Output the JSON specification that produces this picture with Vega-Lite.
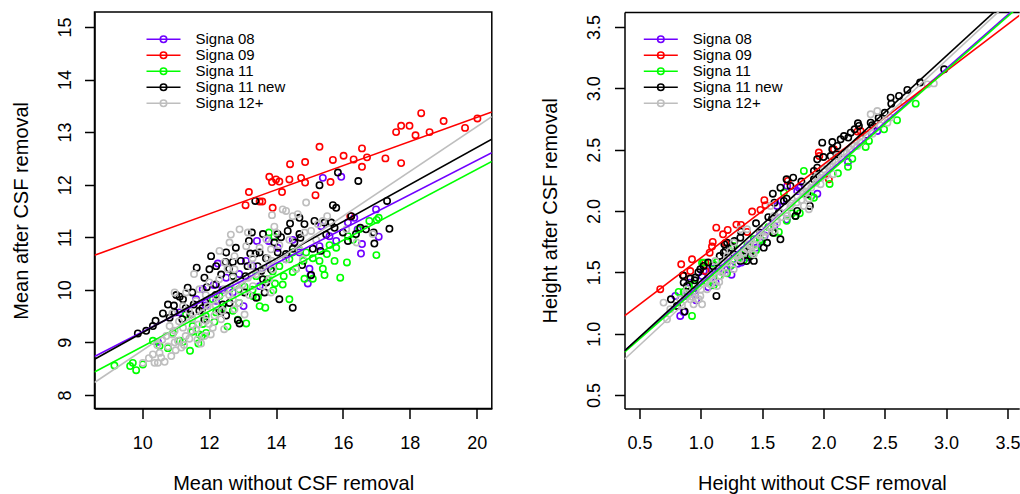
{
  "$schema": "https://vega.github.io/schema/vega-lite/v6.json",
  "padding": {"left": 9.5, "top": 11, "right": 0, "bottom": 0},
  "spacing": 132,
  "bounds": "flush",
  "config": {
    "view": {"stroke": null},
    "font": "Liberation Sans",
    "axis": {
      "grid": false, "domainColor": "black", "domainWidth": 1.5, "tickColor": "black", "tickWidth": 1.5, "tickSize": 10,
      "labelFont": "Liberation Sans", "labelFontSize": 18, "labelColor": "black", "labelFlush": false, "labelOverlap": false,
      "titleFont": "Liberation Sans", "titleFontSize": 20, "titleFontWeight": "normal", "titleColor": "black"
    },
    "axisBottom": {"labelBaseline": "alphabetic", "labelPadding": 29.5, "titleY": 80.7, "titleBaseline": "alphabetic"},
    "axisLeft": {"labelAngle": -90, "labelAlign": "center", "labelBaseline": "alphabetic", "labelPadding": 14.5, "titleAngle": 270, "titleX": -67.5, "titleY": 198.3, "titleAlign": "center", "titleBaseline": "alphabetic"},
    "legend": {"padding": 0, "rowPadding": 0, "clipHeight": 15, "labelFont": "Liberation Sans", "labelFontSize": 15, "labelColor": "black", "labelOffset": 14, "labelBaseline": "middle", "symbolStrokeWidth": 1.6, "symbolFillColor": "transparent", "symbolOpacity": 1}
  },
  "datasets": {
    "mean": [
      {"s":"Signa 08","x":15.40,"y":12.13},{"s":"Signa 08","x":15.95,"y":12.15},{"s":"Signa 08","x":16.34,"y":11.37},{"s":"Signa 08","x":16.57,"y":10.87},{"s":"Signa 08","x":16.54,"y":10.69},{"s":"Signa 08","x":16.99,"y":11.53},{"s":"Signa 08","x":17.07,"y":11.01},{"s":"Signa 08","x":14.95,"y":10.12},{"s":"Signa 08","x":15.00,"y":10.40},{"s":"Signa 08","x":15.35,"y":11.21},{"s":"Signa 08","x":15.30,"y":10.83},{"s":"Signa 08","x":15.60,"y":11.02},{"s":"Signa 08","x":15.80,"y":10.93},{"s":"Signa 08","x":13.43,"y":10.93},{"s":"Signa 08","x":13.78,"y":10.93},{"s":"Signa 08","x":14.05,"y":10.80},{"s":"Signa 08","x":12.26,"y":10.50},{"s":"Signa 08","x":12.14,"y":10.09},{"s":"Signa 08","x":13.03,"y":9.69},{"s":"Signa 08","x":10.47,"y":9.01},{"s":"Signa 08","x":12.51,"y":10.23},{"s":"Signa 08","x":15.03,"y":10.27},{"s":"Signa 08","x":14.70,"y":10.71},{"s":"Signa 08","x":14.30,"y":10.58},{"s":"Signa 08","x":11.81,"y":10.01},{"s":"Signa 08","x":11.61,"y":9.82},{"s":"Signa 08","x":12.71,"y":9.95},{"s":"Signa 08","x":11.12,"y":9.57},{"s":"Signa 08","x":13.31,"y":10.45},{"s":"Signa 08","x":16.15,"y":11.28},{"s":"Signa 08","x":16.44,"y":11.15},{"s":"Signa 08","x":13.51,"y":10.07},{"s":"Signa 08","x":12.21,"y":9.79},{"s":"Signa 08","x":12.4,"y":10.0},{"s":"Signa 08","x":13.8,"y":10.45},{"s":"Signa 08","x":12.9,"y":10.3},{"s":"Signa 08","x":14.5,"y":10.95},{"s":"Signa 08","x":11.9,"y":9.7},{"s":"Signa 08","x":13.1,"y":10.55},
      {"s":"Signa 09","x":18.34,"y":13.36},{"s":"Signa 09","x":17.59,"y":13.0},{"s":"Signa 09","x":17.74,"y":13.12},{"s":"Signa 09","x":17.99,"y":13.12},{"s":"Signa 09","x":18.17,"y":12.94},{"s":"Signa 09","x":18.59,"y":13.0},{"s":"Signa 09","x":19.01,"y":13.21},{"s":"Signa 09","x":19.65,"y":13.08},{"s":"Signa 09","x":20.02,"y":13.26},{"s":"Signa 09","x":17.74,"y":12.41},{"s":"Signa 09","x":17.27,"y":12.5},{"s":"Signa 09","x":16.72,"y":12.52},{"s":"Signa 09","x":16.57,"y":12.69},{"s":"Signa 09","x":16.57,"y":12.34},{"s":"Signa 09","x":16.32,"y":12.48},{"s":"Signa 09","x":16.02,"y":12.55},{"s":"Signa 09","x":15.70,"y":12.47},{"s":"Signa 09","x":15.30,"y":12.72},{"s":"Signa 09","x":15.63,"y":12.05},{"s":"Signa 09","x":15.18,"y":11.80},{"s":"Signa 09","x":14.87,"y":12.04},{"s":"Signa 09","x":14.75,"y":12.13},{"s":"Signa 09","x":14.40,"y":12.10},{"s":"Signa 09","x":14.87,"y":12.43},{"s":"Signa 09","x":14.42,"y":12.39},{"s":"Signa 09","x":14.18,"y":11.86},{"s":"Signa 09","x":13.90,"y":11.56},{"s":"Signa 09","x":13.80,"y":12.15},{"s":"Signa 09","x":13.88,"y":12.05},{"s":"Signa 09","x":14.00,"y":12.10},{"s":"Signa 09","x":14.10,"y":12.06},{"s":"Signa 09","x":13.09,"y":11.61},{"s":"Signa 09","x":13.19,"y":11.86},{"s":"Signa 09","x":13.51,"y":11.68},{"s":"Signa 09","x":13.59,"y":11.68},{"s":"Signa 09","x":16.22,"y":11.40},
      {"s":"Signa 11","x":9.17,"y":8.56},{"s":"Signa 11","x":9.64,"y":8.55},{"s":"Signa 11","x":9.72,"y":8.61},{"s":"Signa 11","x":9.82,"y":8.47},{"s":"Signa 11","x":10.02,"y":8.58},{"s":"Signa 11","x":10.32,"y":9.03},{"s":"Signa 11","x":10.77,"y":8.89},{"s":"Signa 11","x":11.12,"y":9.03},{"s":"Signa 11","x":11.22,"y":9.01},{"s":"Signa 11","x":11.43,"y":8.84},{"s":"Signa 11","x":11.68,"y":8.98},{"s":"Signa 11","x":11.78,"y":9.12},{"s":"Signa 11","x":11.91,"y":9.18},{"s":"Signa 11","x":11.71,"y":9.15},{"s":"Signa 11","x":12.16,"y":9.39},{"s":"Signa 11","x":12.21,"y":9.57},{"s":"Signa 11","x":12.71,"y":9.60},{"s":"Signa 11","x":13.11,"y":9.36},{"s":"Signa 11","x":12.86,"y":9.43},{"s":"Signa 11","x":12.89,"y":10.01},{"s":"Signa 11","x":13.31,"y":9.88},{"s":"Signa 11","x":13.51,"y":9.69},{"s":"Signa 11","x":13.68,"y":9.66},{"s":"Signa 11","x":13.46,"y":9.86},{"s":"Signa 11","x":13.92,"y":9.99},{"s":"Signa 11","x":13.97,"y":10.12},{"s":"Signa 11","x":14.20,"y":10.10},{"s":"Signa 11","x":14.23,"y":10.26},{"s":"Signa 11","x":14.10,"y":10.45},{"s":"Signa 11","x":14.40,"y":10.58},{"s":"Signa 11","x":14.70,"y":10.76},{"s":"Signa 11","x":14.85,"y":10.21},{"s":"Signa 11","x":15.10,"y":10.21},{"s":"Signa 11","x":15.45,"y":10.28},{"s":"Signa 11","x":15.75,"y":10.55},{"s":"Signa 11","x":15.92,"y":10.23},{"s":"Signa 11","x":16.12,"y":10.52},{"s":"Signa 11","x":15.80,"y":10.80},{"s":"Signa 11","x":16.15,"y":11.02},{"s":"Signa 11","x":16.49,"y":11.15},{"s":"Signa 11","x":16.79,"y":11.31},{"s":"Signa 11","x":17.01,"y":11.33},{"s":"Signa 11","x":17.07,"y":11.37},{"s":"Signa 11","x":17.00,"y":10.66},{"s":"Signa 11","x":13.79,"y":11.09},{"s":"Signa 11","x":13.95,"y":11.01},{"s":"Signa 11","x":12.71,"y":10.26},{"s":"Signa 11","x":11.81,"y":9.35},{"s":"Signa 11","x":11.31,"y":9.53},{"s":"Signa 11","x":12.11,"y":9.82},{"s":"Signa 11","x":12.61,"y":10.01},{"s":"Signa 11","x":12.31,"y":9.88},{"s":"Signa 11","x":13.41,"y":10.26},{"s":"Signa 11","x":14.50,"y":10.34},{"s":"Signa 11","x":15.30,"y":10.55},{"s":"Signa 11","x":15.52,"y":10.68},{"s":"Signa 11","x":15.40,"y":10.40},{"s":"Signa 11","x":14.82,"y":10.55},{"s":"Signa 11","x":14.50,"y":10.71},{"s":"Signa 11","x":13.06,"y":10.06},{"s":"Signa 11","x":11.51,"y":9.31},{"s":"Signa 11","x":10.92,"y":9.18},{"s":"Signa 11","x":10.52,"y":8.93},{"s":"Signa 11","x":14.40,"y":9.82},{"s":"Signa 11","x":14.90,"y":10.71},{"s":"Signa 11","x":11.9,"y":9.5},{"s":"Signa 11","x":12.4,"y":9.65},{"s":"Signa 11","x":12.9,"y":9.75},{"s":"Signa 11","x":13.3,"y":10.0},{"s":"Signa 11","x":13.75,"y":10.2},{"s":"Signa 11","x":14.6,"y":10.4},{"s":"Signa 11","x":15.1,"y":10.6},{"s":"Signa 11","x":11.5,"y":9.2},{"s":"Signa 11","x":12.55,"y":9.3},{"s":"Signa 11","x":13.9,"y":10.35},{"s":"Signa 11","x":15.6,"y":10.85},{"s":"Signa 11","x":16.3,"y":10.95},
      {"s":"Signa 11 new","x":9.87,"y":9.17},{"s":"Signa 11 new","x":10.12,"y":9.22},{"s":"Signa 11 new","x":10.32,"y":9.31},{"s":"Signa 11 new","x":10.40,"y":9.41},{"s":"Signa 11 new","x":10.62,"y":9.55},{"s":"Signa 11 new","x":10.77,"y":9.72},{"s":"Signa 11 new","x":10.97,"y":9.57},{"s":"Signa 11 new","x":11.02,"y":9.90},{"s":"Signa 11 new","x":11.12,"y":9.87},{"s":"Signa 11 new","x":11.22,"y":9.82},{"s":"Signa 11 new","x":11.36,"y":10.04},{"s":"Signa 11 new","x":11.44,"y":9.53},{"s":"Signa 11 new","x":11.54,"y":9.72},{"s":"Signa 11 new","x":11.63,"y":10.42},{"s":"Signa 11 new","x":11.86,"y":10.23},{"s":"Signa 11 new","x":11.89,"y":9.76},{"s":"Signa 11 new","x":11.93,"y":10.05},{"s":"Signa 11 new","x":12.01,"y":10.39},{"s":"Signa 11 new","x":12.06,"y":10.64},{"s":"Signa 11 new","x":12.21,"y":10.45},{"s":"Signa 11 new","x":12.36,"y":10.29},{"s":"Signa 11 new","x":12.31,"y":9.60},{"s":"Signa 11 new","x":12.41,"y":9.72},{"s":"Signa 11 new","x":12.49,"y":10.53},{"s":"Signa 11 new","x":12.51,"y":10.71},{"s":"Signa 11 new","x":12.51,"y":9.51},{"s":"Signa 11 new","x":12.61,"y":9.75},{"s":"Signa 11 new","x":12.71,"y":10.53},{"s":"Signa 11 new","x":12.71,"y":10.26},{"s":"Signa 11 new","x":12.86,"y":9.42},{"s":"Signa 11 new","x":13.09,"y":10.26},{"s":"Signa 11 new","x":13.19,"y":10.93},{"s":"Signa 11 new","x":13.23,"y":10.69},{"s":"Signa 11 new","x":13.28,"y":11.09},{"s":"Signa 11 new","x":13.39,"y":10.69},{"s":"Signa 11 new","x":13.38,"y":11.69},{"s":"Signa 11 new","x":13.51,"y":10.71},{"s":"Signa 11 new","x":13.56,"y":10.36},{"s":"Signa 11 new","x":13.61,"y":11.06},{"s":"Signa 11 new","x":13.66,"y":9.95},{"s":"Signa 11 new","x":13.71,"y":10.14},{"s":"Signa 11 new","x":13.41,"y":9.85},{"s":"Signa 11 new","x":13.85,"y":10.39},{"s":"Signa 11 new","x":14.05,"y":11.06},{"s":"Signa 11 new","x":14.05,"y":10.71},{"s":"Signa 11 new","x":14.30,"y":10.68},{"s":"Signa 11 new","x":14.35,"y":11.12},{"s":"Signa 11 new","x":14.42,"y":11.26},{"s":"Signa 11 new","x":14.50,"y":10.78},{"s":"Signa 11 new","x":14.70,"y":11.37},{"s":"Signa 11 new","x":14.70,"y":11.06},{"s":"Signa 11 new","x":14.73,"y":10.99},{"s":"Signa 11 new","x":14.78,"y":10.47},{"s":"Signa 11 new","x":15.05,"y":10.28},{"s":"Signa 11 new","x":15.10,"y":10.78},{"s":"Signa 11 new","x":15.15,"y":11.31},{"s":"Signa 11 new","x":15.30,"y":11.99},{"s":"Signa 11 new","x":15.33,"y":10.74},{"s":"Signa 11 new","x":15.65,"y":11.28},{"s":"Signa 11 new","x":15.75,"y":11.18},{"s":"Signa 11 new","x":15.85,"y":12.23},{"s":"Signa 11 new","x":15.80,"y":11.56},{"s":"Signa 11 new","x":16.00,"y":11.09},{"s":"Signa 11 new","x":16.15,"y":10.93},{"s":"Signa 11 new","x":16.46,"y":12.07},{"s":"Signa 11 new","x":16.52,"y":11.18},{"s":"Signa 11 new","x":16.92,"y":11.09},{"s":"Signa 11 new","x":16.94,"y":10.88},{"s":"Signa 11 new","x":17.32,"y":11.69},{"s":"Signa 11 new","x":17.39,"y":11.16},{"s":"Signa 11 new","x":14.50,"y":9.66},{"s":"Signa 11 new","x":14.10,"y":9.82},{"s":"Signa 11 new","x":13.61,"y":10.20},{"s":"Signa 11 new","x":12.91,"y":9.36},{"s":"Signa 11 new","x":13.06,"y":9.95},{"s":"Signa 11 new","x":11.86,"y":9.44},{"s":"Signa 11 new","x":11.71,"y":9.60},{"s":"Signa 11 new","x":11.20,"y":9.44},{"s":"Signa 11 new","x":10.82,"y":9.47},{"s":"Signa 11 new","x":15.70,"y":11.61},{"s":"Signa 11 new","x":15.45,"y":11.28},{"s":"Signa 11 new","x":16.25,"y":11.40},{"s":"Signa 11 new","x":16.39,"y":11.06},{"s":"Signa 11 new","x":16.69,"y":11.15},{"s":"Signa 11 new","x":11.5,"y":9.95},{"s":"Signa 11 new","x":11.8,"y":9.65},{"s":"Signa 11 new","x":12.2,"y":10.1},{"s":"Signa 11 new","x":12.6,"y":10.4},{"s":"Signa 11 new","x":12.95,"y":10.55},{"s":"Signa 11 new","x":13.15,"y":10.45},{"s":"Signa 11 new","x":13.7,"y":10.6},{"s":"Signa 11 new","x":13.95,"y":10.9},{"s":"Signa 11 new","x":14.15,"y":11.0},{"s":"Signa 11 new","x":14.55,"y":10.9},{"s":"Signa 11 new","x":12.2,"y":9.9},{"s":"Signa 11 new","x":11.3,"y":9.65},{"s":"Signa 11 new","x":10.95,"y":9.7},{"s":"Signa 11 new","x":12.8,"y":10.8},{"s":"Signa 11 new","x":13.45,"y":10.45},{"s":"Signa 11 new","x":14.85,"y":11.25},{"s":"Signa 11 new","x":15.5,"y":11.05},
      {"s":"Signa 12+","x":10.02,"y":8.61},{"s":"Signa 12+","x":10.32,"y":8.77},{"s":"Signa 12+","x":10.37,"y":8.61},{"s":"Signa 12+","x":10.47,"y":8.61},{"s":"Signa 12+","x":10.52,"y":8.80},{"s":"Signa 12+","x":10.57,"y":8.71},{"s":"Signa 12+","x":10.67,"y":8.63},{"s":"Signa 12+","x":10.77,"y":8.92},{"s":"Signa 12+","x":10.87,"y":8.74},{"s":"Signa 12+","x":10.97,"y":9.00},{"s":"Signa 12+","x":11.07,"y":9.03},{"s":"Signa 12+","x":11.17,"y":8.90},{"s":"Signa 12+","x":10.82,"y":9.31},{"s":"Signa 12+","x":10.97,"y":9.22},{"s":"Signa 12+","x":10.72,"y":9.12},{"s":"Signa 12+","x":11.22,"y":9.28},{"s":"Signa 12+","x":11.31,"y":9.95},{"s":"Signa 12+","x":11.22,"y":9.69},{"s":"Signa 12+","x":10.97,"y":9.95},{"s":"Signa 12+","x":11.41,"y":9.07},{"s":"Signa 12+","x":11.46,"y":9.22},{"s":"Signa 12+","x":11.61,"y":9.79},{"s":"Signa 12+","x":11.68,"y":9.34},{"s":"Signa 12+","x":11.71,"y":10.01},{"s":"Signa 12+","x":11.76,"y":8.98},{"s":"Signa 12+","x":11.86,"y":9.12},{"s":"Signa 12+","x":11.91,"y":9.41},{"s":"Signa 12+","x":11.96,"y":9.69},{"s":"Signa 12+","x":12.01,"y":10.14},{"s":"Signa 12+","x":12.16,"y":9.51},{"s":"Signa 12+","x":12.21,"y":9.88},{"s":"Signa 12+","x":12.31,"y":10.74},{"s":"Signa 12+","x":12.46,"y":10.01},{"s":"Signa 12+","x":12.46,"y":10.52},{"s":"Signa 12+","x":12.61,"y":10.90},{"s":"Signa 12+","x":12.71,"y":9.82},{"s":"Signa 12+","x":12.76,"y":9.63},{"s":"Signa 12+","x":12.76,"y":10.39},{"s":"Signa 12+","x":12.76,"y":10.64},{"s":"Signa 12+","x":12.91,"y":9.98},{"s":"Signa 12+","x":12.91,"y":11.15},{"s":"Signa 12+","x":13.06,"y":9.53},{"s":"Signa 12+","x":13.11,"y":10.83},{"s":"Signa 12+","x":13.16,"y":10.23},{"s":"Signa 12+","x":13.16,"y":11.09},{"s":"Signa 12+","x":13.31,"y":10.07},{"s":"Signa 12+","x":13.51,"y":10.80},{"s":"Signa 12+","x":13.61,"y":10.07},{"s":"Signa 12+","x":13.71,"y":10.96},{"s":"Signa 12+","x":13.85,"y":9.95},{"s":"Signa 12+","x":13.85,"y":10.77},{"s":"Signa 12+","x":13.88,"y":10.55},{"s":"Signa 12+","x":13.88,"y":11.42},{"s":"Signa 12+","x":13.90,"y":10.39},{"s":"Signa 12+","x":14.00,"y":11.09},{"s":"Signa 12+","x":14.20,"y":11.53},{"s":"Signa 12+","x":14.30,"y":11.50},{"s":"Signa 12+","x":14.30,"y":10.58},{"s":"Signa 12+","x":14.50,"y":11.40},{"s":"Signa 12+","x":14.65,"y":11.44},{"s":"Signa 12+","x":14.70,"y":10.77},{"s":"Signa 12+","x":14.80,"y":10.58},{"s":"Signa 12+","x":14.85,"y":11.09},{"s":"Signa 12+","x":14.90,"y":11.66},{"s":"Signa 12+","x":15.05,"y":11.12},{"s":"Signa 12+","x":15.25,"y":11.25},{"s":"Signa 12+","x":15.40,"y":11.31},{"s":"Signa 12+","x":15.53,"y":11.40},{"s":"Signa 12+","x":16.41,"y":10.90},{"s":"Signa 12+","x":16.89,"y":11.06},{"s":"Signa 12+","x":12.11,"y":9.28},{"s":"Signa 12+","x":12.36,"y":9.44},{"s":"Signa 12+","x":11.61,"y":9.25},{"s":"Signa 12+","x":12.71,"y":10.23},{"s":"Signa 12+","x":13.26,"y":10.45},{"s":"Signa 12+","x":16.10,"y":11.15},{"s":"Signa 12+","x":10.6,"y":9.05},{"s":"Signa 12+","x":10.9,"y":9.15},{"s":"Signa 12+","x":11.0,"y":8.85},{"s":"Signa 12+","x":11.3,"y":9.12},{"s":"Signa 12+","x":11.5,"y":9.45},{"s":"Signa 12+","x":11.8,"y":9.55},{"s":"Signa 12+","x":12.0,"y":9.35},{"s":"Signa 12+","x":12.2,"y":9.7},{"s":"Signa 12+","x":12.4,"y":9.6},{"s":"Signa 12+","x":12.6,"y":9.9},{"s":"Signa 12+","x":12.9,"y":9.75},{"s":"Signa 12+","x":13.0,"y":10.1},{"s":"Signa 12+","x":13.2,"y":9.9},{"s":"Signa 12+","x":13.4,"y":10.3},{"s":"Signa 12+","x":13.6,"y":10.4},{"s":"Signa 12+","x":12.3,"y":10.2},{"s":"Signa 12+","x":11.9,"y":9.9},{"s":"Signa 12+","x":11.4,"y":9.6},{"s":"Signa 12+","x":11.1,"y":9.4},{"s":"Signa 12+","x":10.9,"y":9.55},{"s":"Signa 12+","x":12.55,"y":10.4},{"s":"Signa 12+","x":13.75,"y":10.6},{"s":"Signa 12+","x":14.1,"y":10.85},{"s":"Signa 12+","x":14.4,"y":10.95},{"s":"Signa 12+","x":13.3,"y":10.6},{"s":"Signa 12+","x":12.8,"y":10.1},{"s":"Signa 12+","x":11.65,"y":9.05},{"s":"Signa 12+","x":11.25,"y":8.95},{"s":"Signa 12+","x":10.45,"y":8.95},{"s":"Signa 12+","x":10.2,"y":8.7},{"s":"Signa 12+","x":12.05,"y":9.15},{"s":"Signa 12+","x":12.45,"y":9.25},{"s":"Signa 12+","x":13.8,"y":10.2},{"s":"Signa 12+","x":14.6,"y":10.4},{"s":"Signa 12+","x":15.2,"y":10.95},{"s":"Signa 12+","x":13.95,"y":11.2},{"s":"Signa 12+","x":12.65,"y":11.05},{"s":"Signa 12+","x":11.55,"y":10.3}
    ],
    "meanLines": [
      {"s":"Signa 08","x":8.575,"y":8.73},{"s":"Signa 08","x":20.45,"y":12.61},
      {"s":"Signa 09","x":8.575,"y":10.657},{"s":"Signa 09","x":20.45,"y":13.383},
      {"s":"Signa 11","x":8.575,"y":8.437},{"s":"Signa 11","x":20.45,"y":12.44},
      {"s":"Signa 11 new","x":8.575,"y":8.68},{"s":"Signa 11 new","x":20.45,"y":12.864},
      {"s":"Signa 12+","x":8.575,"y":8.236},{"s":"Signa 12+","x":20.45,"y":13.296}
    ],
    "height": [
      {"s":"Signa 08","x":0.792,"y":1.307},{"s":"Signa 08","x":0.832,"y":1.144},{"s":"Signa 08","x":0.86,"y":1.177},{"s":"Signa 08","x":0.873,"y":1.307},{"s":"Signa 08","x":0.941,"y":1.348},{"s":"Signa 08","x":1.023,"y":1.511},{"s":"Signa 08","x":1.037,"y":1.43},{"s":"Signa 08","x":1.146,"y":1.53},{"s":"Signa 08","x":1.173,"y":1.503},{"s":"Signa 08","x":1.214,"y":1.525},{"s":"Signa 08","x":1.241,"y":1.552},{"s":"Signa 08","x":1.622,"y":2.041},{"s":"Signa 08","x":1.655,"y":2.082},{"s":"Signa 08","x":1.799,"y":2.19},{"s":"Signa 08","x":1.813,"y":2.198},{"s":"Signa 08","x":2.439,"y":2.652},{"s":"Signa 08","x":0.961,"y":1.272},{"s":"Signa 08","x":0.906,"y":1.416},{"s":"Signa 08","x":1.01,"y":1.47},{"s":"Signa 08","x":1.092,"y":1.53},{"s":"Signa 08","x":1.704,"y":2.204},{"s":"Signa 08","x":1.786,"y":2.163},{"s":"Signa 08","x":1.3,"y":1.57},{"s":"Signa 08","x":1.45,"y":1.70},{"s":"Signa 08","x":1.52,"y":1.80},{"s":"Signa 08","x":1.38,"y":1.62},{"s":"Signa 08","x":1.12,"y":1.42},{"s":"Signa 08","x":1.6,"y":1.88},{"s":"Signa 08","x":1.25,"y":1.48},{"s":"Signa 08","x":0.95,"y":1.32},{"s":"Signa 08","x":1.06,"y":1.38},{"s":"Signa 08","x":1.33,"y":1.58},{"s":"Signa 08","x":1.48,"y":1.75},{"s":"Signa 08","x":1.7,"y":1.93},{"s":"Signa 08","x":1.95,"y":2.14},{"s":"Signa 08","x":2.2,"y":2.4},
      {"s":"Signa 09","x":0.669,"y":1.362},{"s":"Signa 09","x":0.84,"y":1.565},{"s":"Signa 09","x":0.86,"y":1.47},{"s":"Signa 09","x":0.914,"y":1.51},{"s":"Signa 09","x":0.928,"y":1.606},{"s":"Signa 09","x":1.037,"y":1.579},{"s":"Signa 09","x":1.037,"y":1.51},{"s":"Signa 09","x":1.072,"y":1.66},{"s":"Signa 09","x":1.091,"y":1.71},{"s":"Signa 09","x":1.097,"y":1.748},{"s":"Signa 09","x":1.126,"y":1.864},{"s":"Signa 09","x":1.181,"y":1.81},{"s":"Signa 09","x":1.219,"y":1.845},{"s":"Signa 09","x":1.29,"y":1.889},{"s":"Signa 09","x":1.328,"y":1.886},{"s":"Signa 09","x":1.377,"y":1.829},{"s":"Signa 09","x":1.418,"y":1.995},{"s":"Signa 09","x":1.486,"y":2.009},{"s":"Signa 09","x":1.518,"y":2.088},{"s":"Signa 09","x":1.527,"y":2.047},{"s":"Signa 09","x":1.709,"y":2.245},{"s":"Signa 09","x":1.962,"y":2.476},{"s":"Signa 09","x":1.966,"y":2.448},{"s":"Signa 09","x":2.044,"y":2.258},{"s":"Signa 09","x":2.085,"y":2.503},{"s":"Signa 09","x":2.276,"y":2.647},{"s":"Signa 09","x":2.303,"y":2.652},{"s":"Signa 09","x":1.2,"y":1.74},
      {"s":"Signa 11","x":0.819,"y":1.34},{"s":"Signa 11","x":0.86,"y":1.34},{"s":"Signa 11","x":0.928,"y":1.144},{"s":"Signa 11","x":0.901,"y":1.389},{"s":"Signa 11","x":1.1,"y":1.571},{"s":"Signa 11","x":1.132,"y":1.585},{"s":"Signa 11","x":1.214,"y":1.492},{"s":"Signa 11","x":1.268,"y":1.715},{"s":"Signa 11","x":1.418,"y":1.639},{"s":"Signa 11","x":1.5,"y":1.755},{"s":"Signa 11","x":1.677,"y":2.149},{"s":"Signa 11","x":1.745,"y":1.981},{"s":"Signa 11","x":1.772,"y":1.959},{"s":"Signa 11","x":1.807,"y":1.981},{"s":"Signa 11","x":1.84,"y":2.326},{"s":"Signa 11","x":1.922,"y":2.108},{"s":"Signa 11","x":2.235,"y":2.426},{"s":"Signa 11","x":2.344,"y":2.522},{"s":"Signa 11","x":2.371,"y":2.571},{"s":"Signa 11","x":2.494,"y":2.666},{"s":"Signa 11","x":2.752,"y":2.875},{"s":"Signa 11","x":1.159,"y":1.51},{"s":"Signa 11","x":1.023,"y":1.579},{"s":"Signa 11","x":1.486,"y":1.768},{"s":"Signa 11","x":2.118,"y":2.307},{"s":"Signa 11","x":1.636,"y":1.829},{"s":"Signa 11","x":1.323,"y":1.647},{"s":"Signa 11","x":1.432,"y":1.77},{"s":"Signa 11","x":1.01,"y":1.578},{"s":"Signa 11","x":1.105,"y":1.394},{"s":"Signa 11","x":1.05,"y":1.42},{"s":"Signa 11","x":1.25,"y":1.56},{"s":"Signa 11","x":1.38,"y":1.72},{"s":"Signa 11","x":1.55,"y":1.87},{"s":"Signa 11","x":0.95,"y":1.40},{"s":"Signa 11","x":1.3,"y":1.62},{"s":"Signa 11","x":1.15,"y":1.47},{"s":"Signa 11","x":1.35,"y":1.6},{"s":"Signa 11","x":1.6,"y":1.82},{"s":"Signa 11","x":1.9,"y":2.12},{"s":"Signa 11","x":2.05,"y":2.22},{"s":"Signa 11","x":2.2,"y":2.36},{"s":"Signa 11","x":2.6,"y":2.74},{"s":"Signa 11","x":1.7,"y":1.92},{"s":"Signa 11","x":1.45,"y":1.68},
      {"s":"Signa 11 new","x":0.756,"y":1.28},{"s":"Signa 11 new","x":0.86,"y":1.416},{"s":"Signa 11 new","x":0.887,"y":1.389},{"s":"Signa 11 new","x":0.95,"y":1.435},{"s":"Signa 11 new","x":0.955,"y":1.457},{"s":"Signa 11 new","x":1.127,"y":1.307},{"s":"Signa 11 new","x":1.192,"y":1.728},{"s":"Signa 11 new","x":1.274,"y":1.755},{"s":"Signa 11 new","x":1.328,"y":1.831},{"s":"Signa 11 new","x":1.372,"y":1.592},{"s":"Signa 11 new","x":1.405,"y":1.633},{"s":"Signa 11 new","x":1.513,"y":1.701},{"s":"Signa 11 new","x":1.486,"y":1.823},{"s":"Signa 11 new","x":1.581,"y":1.94},{"s":"Signa 11 new","x":1.636,"y":1.986},{"s":"Signa 11 new","x":1.649,"y":2.19},{"s":"Signa 11 new","x":1.699,"y":2.258},{"s":"Signa 11 new","x":1.753,"y":2.272},{"s":"Signa 11 new","x":1.731,"y":2.204},{"s":"Signa 11 new","x":1.587,"y":2.141},{"s":"Signa 11 new","x":1.6,"y":2.068},{"s":"Signa 11 new","x":1.772,"y":1.959},{"s":"Signa 11 new","x":1.786,"y":2.0},{"s":"Signa 11 new","x":1.867,"y":2.136},{"s":"Signa 11 new","x":1.889,"y":2.041},{"s":"Signa 11 new","x":1.922,"y":2.258},{"s":"Signa 11 new","x":1.922,"y":2.326},{"s":"Signa 11 new","x":1.949,"y":2.353},{"s":"Signa 11 new","x":1.99,"y":2.557},{"s":"Signa 11 new","x":2.072,"y":2.562},{"s":"Signa 11 new","x":2.072,"y":2.503},{"s":"Signa 11 new","x":2.113,"y":2.53},{"s":"Signa 11 new","x":2.14,"y":2.584},{"s":"Signa 11 new","x":2.167,"y":2.611},{"s":"Signa 11 new","x":2.202,"y":2.598},{"s":"Signa 11 new","x":2.222,"y":2.638},{"s":"Signa 11 new","x":2.254,"y":2.666},{"s":"Signa 11 new","x":2.281,"y":2.715},{"s":"Signa 11 new","x":2.289,"y":2.693},{"s":"Signa 11 new","x":2.385,"y":2.72},{"s":"Signa 11 new","x":2.398,"y":2.699},{"s":"Signa 11 new","x":2.548,"y":2.924},{"s":"Signa 11 new","x":2.553,"y":2.875},{"s":"Signa 11 new","x":2.616,"y":2.938},{"s":"Signa 11 new","x":2.684,"y":2.987},{"s":"Signa 11 new","x":2.788,"y":3.047},{"s":"Signa 11 new","x":2.984,"y":3.155},{"s":"Signa 11 new","x":1.949,"y":2.421},{"s":"Signa 11 new","x":2.058,"y":2.448},{"s":"Signa 11 new","x":1.677,"y":2.082},{"s":"Signa 11 new","x":1.268,"y":1.647},{"s":"Signa 11 new","x":1.186,"y":1.66},{"s":"Signa 11 new","x":1.322,"y":1.782},{"s":"Signa 11 new","x":1.54,"y":1.741},{"s":"Signa 11 new","x":1.214,"y":1.742},{"s":"Signa 11 new","x":0.868,"y":1.18},{"s":"Signa 11 new","x":0.854,"y":1.476},{"s":"Signa 11 new","x":0.914,"y":1.449},{"s":"Signa 11 new","x":1.023,"y":1.552},{"s":"Signa 11 new","x":1.154,"y":1.633},{"s":"Signa 11 new","x":1.2,"y":1.674},{"s":"Signa 11 new","x":1.323,"y":1.593},{"s":"Signa 11 new","x":1.404,"y":1.71},{"s":"Signa 11 new","x":1.432,"y":1.593},{"s":"Signa 11 new","x":1.589,"y":1.823},{"s":"Signa 11 new","x":1.649,"y":1.769},{"s":"Signa 11 new","x":0.805,"y":1.226},{"s":"Signa 11 new","x":0.996,"y":1.525},{"s":"Signa 11 new","x":0.98,"y":1.5},{"s":"Signa 11 new","x":1.06,"y":1.58},{"s":"Signa 11 new","x":1.25,"y":1.7},{"s":"Signa 11 new","x":1.45,"y":1.9},{"s":"Signa 11 new","x":1.55,"y":1.95},{"s":"Signa 11 new","x":1.7,"y":2.1},{"s":"Signa 11 new","x":1.82,"y":2.24},{"s":"Signa 11 new","x":2.0,"y":2.44},{"s":"Signa 11 new","x":2.12,"y":2.46},{"s":"Signa 11 new","x":2.35,"y":2.62},{"s":"Signa 11 new","x":2.45,"y":2.76},{"s":"Signa 11 new","x":2.5,"y":2.8},{"s":"Signa 11 new","x":1.1,"y":1.55},{"s":"Signa 11 new","x":1.35,"y":1.68},
      {"s":"Signa 12+","x":0.696,"y":1.253},{"s":"Signa 12+","x":0.751,"y":1.199},{"s":"Signa 12+","x":0.846,"y":1.231},{"s":"Signa 12+","x":0.941,"y":1.239},{"s":"Signa 12+","x":1.01,"y":1.239},{"s":"Signa 12+","x":0.982,"y":1.28},{"s":"Signa 12+","x":1.05,"y":1.362},{"s":"Signa 12+","x":1.078,"y":1.403},{"s":"Signa 12+","x":1.159,"y":1.47},{"s":"Signa 12+","x":1.2,"y":1.497},{"s":"Signa 12+","x":1.268,"y":1.525},{"s":"Signa 12+","x":1.322,"y":1.606},{"s":"Signa 12+","x":1.377,"y":1.688},{"s":"Signa 12+","x":1.405,"y":1.715},{"s":"Signa 12+","x":1.459,"y":1.77},{"s":"Signa 12+","x":1.513,"y":1.797},{"s":"Signa 12+","x":1.568,"y":1.878},{"s":"Signa 12+","x":1.622,"y":1.905},{"s":"Signa 12+","x":1.649,"y":1.987},{"s":"Signa 12+","x":1.731,"y":2.041},{"s":"Signa 12+","x":1.786,"y":2.123},{"s":"Signa 12+","x":1.84,"y":2.15},{"s":"Signa 12+","x":1.867,"y":2.204},{"s":"Signa 12+","x":1.949,"y":2.285},{"s":"Signa 12+","x":2.003,"y":2.34},{"s":"Signa 12+","x":2.031,"y":2.367},{"s":"Signa 12+","x":2.072,"y":2.408},{"s":"Signa 12+","x":2.113,"y":2.448},{"s":"Signa 12+","x":2.167,"y":2.476},{"s":"Signa 12+","x":2.222,"y":2.503},{"s":"Signa 12+","x":2.276,"y":2.53},{"s":"Signa 12+","x":2.357,"y":2.612},{"s":"Signa 12+","x":2.385,"y":2.788},{"s":"Signa 12+","x":2.439,"y":2.815},{"s":"Signa 12+","x":2.548,"y":2.761},{"s":"Signa 12+","x":2.521,"y":2.72},{"s":"Signa 12+","x":2.657,"y":2.883},{"s":"Signa 12+","x":2.848,"y":3.032},{"s":"Signa 12+","x":1.295,"y":1.633},{"s":"Signa 12+","x":1.432,"y":1.647},{"s":"Signa 12+","x":1.486,"y":1.851},{"s":"Signa 12+","x":1.268,"y":1.742},{"s":"Signa 12+","x":1.214,"y":1.633},{"s":"Signa 12+","x":1.118,"y":1.592},{"s":"Signa 12+","x":1.976,"y":2.218},{"s":"Signa 12+","x":1.881,"y":2.014},{"s":"Signa 12+","x":1.84,"y":2.041},{"s":"Signa 12+","x":1.704,"y":1.959},{"s":"Signa 12+","x":1.595,"y":1.959},{"s":"Signa 12+","x":1.568,"y":2.041},{"s":"Signa 12+","x":1.377,"y":1.851},{"s":"Signa 12+","x":1.322,"y":1.851},{"s":"Signa 12+","x":1.241,"y":1.674},{"s":"Signa 12+","x":1.186,"y":1.579},{"s":"Signa 12+","x":1.078,"y":1.47},{"s":"Signa 12+","x":1.132,"y":1.389},{"s":"Signa 12+","x":0.996,"y":1.307},{"s":"Signa 12+","x":0.914,"y":1.28},{"s":"Signa 12+","x":0.832,"y":1.28},{"s":"Signa 12+","x":0.887,"y":1.362},{"s":"Signa 12+","x":0.724,"y":1.117},{"s":"Signa 12+","x":2.9,"y":3.04},{"s":"Signa 12+","x":0.88,"y":1.33},{"s":"Signa 12+","x":0.93,"y":1.30},{"s":"Signa 12+","x":1.0,"y":1.36},{"s":"Signa 12+","x":1.04,"y":1.42},{"s":"Signa 12+","x":1.09,"y":1.45},{"s":"Signa 12+","x":1.13,"y":1.52},{"s":"Signa 12+","x":1.17,"y":1.50},{"s":"Signa 12+","x":1.22,"y":1.58},{"s":"Signa 12+","x":1.27,"y":1.60},{"s":"Signa 12+","x":1.31,"y":1.64},{"s":"Signa 12+","x":1.35,"y":1.66},{"s":"Signa 12+","x":1.39,"y":1.73},{"s":"Signa 12+","x":1.44,"y":1.72},{"s":"Signa 12+","x":1.48,"y":1.80},{"s":"Signa 12+","x":1.53,"y":1.83},{"s":"Signa 12+","x":1.57,"y":1.86},{"s":"Signa 12+","x":1.62,"y":1.93},{"s":"Signa 12+","x":1.66,"y":1.95},{"s":"Signa 12+","x":1.7,"y":1.98},{"s":"Signa 12+","x":1.74,"y":2.06},{"s":"Signa 12+","x":1.78,"y":2.07},{"s":"Signa 12+","x":1.82,"y":2.09},{"s":"Signa 12+","x":1.86,"y":2.16},{"s":"Signa 12+","x":1.9,"y":2.19},{"s":"Signa 12+","x":1.94,"y":2.23},{"s":"Signa 12+","x":1.98,"y":2.27},{"s":"Signa 12+","x":2.02,"y":2.29},{"s":"Signa 12+","x":2.06,"y":2.36},{"s":"Signa 12+","x":2.1,"y":2.40},{"s":"Signa 12+","x":2.15,"y":2.43},{"s":"Signa 12+","x":2.19,"y":2.47},{"s":"Signa 12+","x":2.25,"y":2.53},{"s":"Signa 12+","x":2.3,"y":2.56},{"s":"Signa 12+","x":2.4,"y":2.63},{"s":"Signa 12+","x":2.46,"y":2.7},{"s":"Signa 12+","x":1.15,"y":1.42},{"s":"Signa 12+","x":1.42,"y":1.66},{"s":"Signa 12+","x":1.6,"y":1.84},{"s":"Signa 12+","x":1.88,"y":2.1},{"s":"Signa 12+","x":2.08,"y":2.3}
    ],
    "heightLines": [
      {"s":"Signa 08","x":0.3775,"y":0.86},{"s":"Signa 08","x":3.604,"y":3.688},
      {"s":"Signa 09","x":0.3775,"y":1.144},{"s":"Signa 09","x":3.604,"y":3.599},
      {"s":"Signa 11","x":0.3775,"y":0.85},{"s":"Signa 11","x":3.604,"y":3.6755},
      {"s":"Signa 11 new","x":0.3775,"y":0.859},{"s":"Signa 11 new","x":3.604,"y":3.816},
      {"s":"Signa 12+","x":0.3775,"y":0.791},{"s":"Signa 12+","x":3.604,"y":3.788}
    ]
  },
  "hconcat": [
    {
      "width": 397.3,
      "height": 396.6,
      "view": {"stroke": "black", "strokeWidth": 1.5},
      "layer": [
        {
          "data": {"name": "mean"},
          "mark": {"type": "point", "filled": false, "size": 40, "strokeWidth": 1.6, "opacity": 1},
          "encoding": {
            "x": {"field": "x", "type": "quantitative", "scale": {"domain": [8.575, 20.45], "nice": false, "zero": false}, "axis": {"values": [10, 12, 14, 16, 18, 20], "title": "Mean without CSF removal"}},
            "y": {"field": "y", "type": "quantitative", "scale": {"domain": [7.74, 15.285], "nice": false, "zero": false}, "axis": {"values": [8, 9, 10, 11, 12, 13, 14, 15], "title": "Mean after CSF removal"}},
            "color": {"field": "s", "type": "nominal", "scale": {"domain": ["Signa 08", "Signa 09", "Signa 11", "Signa 11 new", "Signa 12+"], "range": ["#7000FF", "#FF0000", "#00FF00", "#000000", "#BEBEBE"]},
              "legend": {"title": null, "orient": "none", "legendX": 51, "legendY": 19.8, "symbolType": "M-1,0H1M0.19,0A0.19,0.19,0,1,1,-0.19,0A0.19,0.19,0,1,1,0.19,0", "symbolSize": 1156}}
          }
        },
        {
          "data": {"name": "meanLines"},
          "mark": {"type": "line", "strokeWidth": 1.6, "clip": true},
          "encoding": {
            "x": {"field": "x", "type": "quantitative"},
            "y": {"field": "y", "type": "quantitative"},
            "color": {"field": "s", "type": "nominal"}
          }
        }
      ]
    },
    {
      "width": 394.7,
      "height": 396.6,
      "view": {"stroke": null},
      "resolve": {"axis": {"x": "independent"}},
      "layer": [
        {
          "data": {"name": "height"},
          "mark": {"type": "point", "filled": false, "size": 40, "strokeWidth": 1.6, "opacity": 1},
          "encoding": {
            "x": {"field": "x", "type": "quantitative", "scale": {"domain": [0.3775, 3.596], "nice": false, "zero": false}, "axis": {"orient": "bottom", "values": [0.5, 1, 1.5, 2, 2.5, 3, 3.5], "format": ".1f", "title": "Height without CSF removal"}},
            "y": {"field": "y", "type": "quantitative", "scale": {"domain": [0.389, 3.622], "nice": false, "zero": false}, "axis": {"values": [0.5, 1, 1.5, 2, 2.5, 3, 3.5], "format": ".1f", "title": "Height after CSF removal"}},
            "color": {"field": "s", "type": "nominal", "scale": {"domain": ["Signa 08", "Signa 09", "Signa 11", "Signa 11 new", "Signa 12+"], "range": ["#7000FF", "#FF0000", "#00FF00", "#000000", "#BEBEBE"]},
              "legend": {"title": null, "orient": "none", "legendX": 18.3, "legendY": 19.8, "symbolType": "M-1,0H1M0.19,0A0.19,0.19,0,1,1,-0.19,0A0.19,0.19,0,1,1,0.19,0", "symbolSize": 1156}}
          }
        },
        {
          "data": {"name": "heightLines"},
          "mark": {"type": "line", "strokeWidth": 1.6, "clip": true},
          "encoding": {
            "x": {"field": "x", "type": "quantitative", "axis": {"orient": "top", "labels": false, "ticks": false, "title": null, "domain": true}},
            "y": {"field": "y", "type": "quantitative"},
            "color": {"field": "s", "type": "nominal"}
          }
        }
      ]
    }
  ],
  "resolve": {"scale": {"color": "independent"}, "legend": {"color": "independent"}}
}
